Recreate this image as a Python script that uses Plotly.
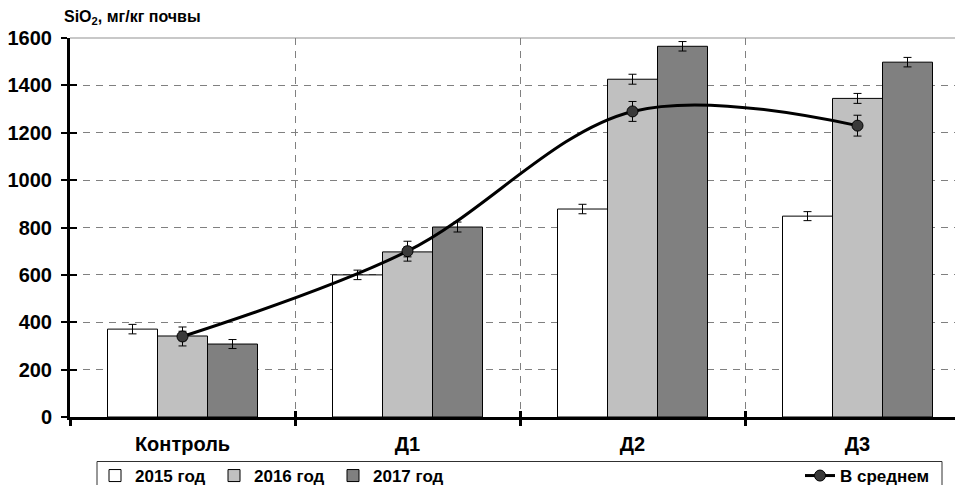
import plotly.graph_objects as go

categories = ["Контроль", "Д1", "Д2", "Д3"]
y2015 = [371, 600, 878, 848]
y2016 = [342, 697, 1426, 1345]
y2017 = [308, 802, 1565, 1498]
err2015 = [20, 20, 20, 19]
err2016 = [20, 21, 21, 21]
err2017 = [19, 21, 20, 20]
mean_vals = [340, 700, 1290, 1230]
mean_err = [40, 42, 42, 44]
y_ticks = [0, 200, 400, 600, 800, 1000, 1200, 1400, 1600]
series_names = ["2015 год", "2016 год", "2017 год"]
mean_name = "В среднем"
y_title = "SiO<sub>2</sub>, мг/кг почвы"

FONT = "Liberation Sans, Arial, sans-serif"
# the page body adds an 8px offset; the figure is sized so the window shows 963x485
OFF = 8
W, H = 963 - OFF, 485 - OFF
# plot area in window pixels: x 70..963, y 38..417
ML, MR, MT, MB = 70 - OFF, 0, 38 - OFF, 485 - 417
PW = 963 - 70
PH = 417 - 38

def px_x(px):
    return (px - 70) / PW

def px_y(py):
    return (417 - py) / PH

fig = go.Figure()
colors = ["#FFFFFF", "#C0C0C0", "#808080"]
for name, vals, errs, col in zip(series_names, [y2015, y2016, y2017],
                                 [err2015, err2016, err2017], colors):
    fig.add_trace(go.Bar(
        x=categories, y=vals, name=name,
        marker=dict(color=col, line=dict(color="#000000", width=1)),
        error_y=dict(type="data", array=errs, color="#000000", thickness=1, width=4),
        legend="legend",
    ))

fig.add_trace(go.Scatter(
    x=categories, y=mean_vals, name=mean_name,
    xaxis="x2", yaxis="y2",
    mode="lines+markers",
    line=dict(color="#000000", width=3, shape="spline", smoothing=1.0),
    marker=dict(size=11, color="#3A3A3A", line=dict(color="#000000", width=1)),
    error_y=dict(type="data", array=mean_err, color="#000000", thickness=1, width=4),
    legend="legend2",
))

xr = [-0.5, -0.5 + 4 * PW / (971 - 71)]
common_x = dict(type="category", categoryorder="array", categoryarray=categories,
                range=xr, tickson="boundaries", zeroline=False)
common_y = dict(range=[0, 1600], tickmode="array", tickvals=y_ticks, zeroline=False)
tick_font = dict(family=FONT, size=20, color="#000000", weight="bold")
leg_font = dict(family=FONT, size=17, color="#000000", weight="bold")

fig.update_layout(
    width=W, height=H,
    margin=dict(l=ML, r=MR, t=MT, b=MB, autoexpand=False),
    paper_bgcolor="#FFFFFF", plot_bgcolor="#FFFFFF",
    font=dict(family=FONT, size=18, color="#000000", weight="bold"),
    barmode="group", bargap=1/3, bargroupgap=0,
    xaxis=dict(**common_x, ticks="outside", ticklen=6, tickwidth=3, tickcolor="#000000",
               showline=True, linewidth=3, linecolor="#000000",
               showgrid=True, gridcolor="#808080", gridwidth=1, griddash="7px,6px",
               tickfont=tick_font, ticklabelstandoff=7),
    xaxis2=dict(**common_x, overlaying="x", anchor="y", side="bottom",
                ticks="inside", ticklen=6, tickwidth=3, tickcolor="#000000",
                showticklabels=False, showgrid=False, showline=False),
    yaxis=dict(**common_y, ticks="outside", ticklen=6, tickwidth=2, tickcolor="#000000",
               showline=True, linewidth=3, linecolor="#000000",
               showgrid=True, gridcolor="#808080", gridwidth=1, griddash="7px,6px",
               tickfont=tick_font, ticklabelstandoff=5),
    yaxis2=dict(**common_y, overlaying="y", anchor="x", side="left",
                ticks="inside", ticklen=7, tickwidth=2, tickcolor="#000000",
                showticklabels=False, showgrid=False, showline=False),
    legend=dict(orientation="h", x=px_x(95), y=px_y(458), xanchor="left", yanchor="top",
                entrywidth=74, entrywidthmode="pixels", itemwidth=30,
                bgcolor="rgba(0,0,0,0)", borderwidth=0, font=leg_font),
    legend2=dict(orientation="h", x=px_x(800), y=px_y(458), xanchor="left", yanchor="top",
                 itemwidth=30, bgcolor="rgba(0,0,0,0)", borderwidth=0, font=leg_font),
    showlegend=True,
    annotations=[dict(text=y_title, xref="paper", yref="paper", x=px_x(62), y=px_y(18),
                      xanchor="left", yanchor="middle", showarrow=False,
                      font=dict(family=FONT, size=16, color="#000000", weight="bold"))],
    shapes=[
        dict(type="line", xref="paper", yref="paper", x0=0, x1=1, y0=1, y1=1,
             line=dict(color="#C8C8C8", width=2), layer="below"),
        dict(type="rect", xref="paper", yref="paper",
             x0=px_x(97), x1=px_x(942), y0=px_y(461.5), y1=px_y(500),
             line=dict(color="#303030", width=1), fillcolor="rgba(0,0,0,0)", layer="below"),
    ],
)

fig.write_html("out.html")
